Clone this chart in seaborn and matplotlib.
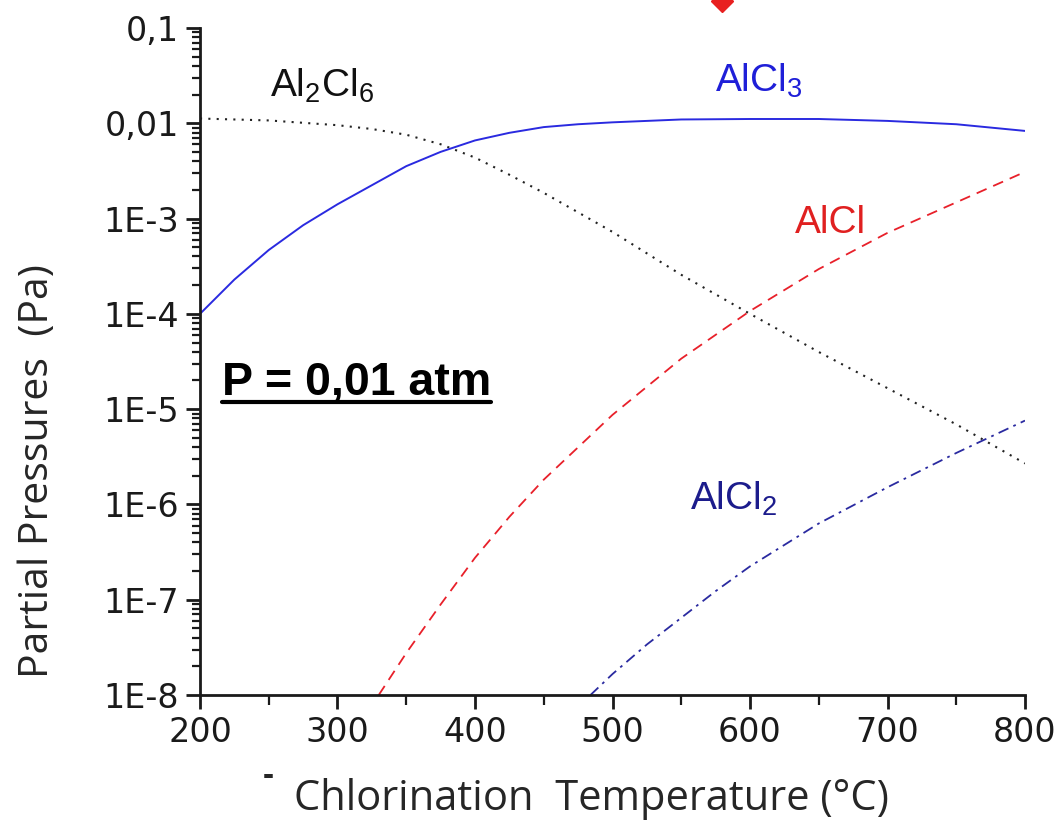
import numpy as np
import pandas as pd
import matplotlib
matplotlib.use("Agg")
import matplotlib.pyplot as plt
import matplotlib.ticker as mticker
from matplotlib.lines import Line2D
import seaborn as sns

# ---- data ----
temp_alcl3 = [200, 225, 250, 275, 300, 350, 375, 400, 425, 450, 475, 500, 550, 600, 650, 700, 750, 800]
log_alcl3 = [-4.0, -3.64, -3.33, -3.07, -2.85, -2.45, -2.30, -2.18, -2.10, -2.04, -2.01, -1.99,
             -1.96, -1.955, -1.955, -1.975, -2.01, -2.08]

temp_al2cl6 = [200, 250, 300, 325, 350, 375, 400, 425, 450, 500, 550, 600, 650, 700, 750, 800]
log_al2cl6 = [-1.95, -1.97, -2.02, -2.06, -2.12, -2.22, -2.36, -2.54, -2.73, -3.14, -3.59,
              -4.0, -4.40, -4.78, -5.16, -5.57]

temp_alcl = [330, 340, 350, 375, 400, 425, 450, 500, 550, 600, 650, 700, 750, 800]
log_alcl = [-8.0, -7.78, -7.56, -7.05, -6.56, -6.13, -5.74, -5.06, -4.47, -3.97, -3.53,
            -3.15, -2.83, -2.51]

temp_alcl2 = [484, 500, 525, 550, 575, 600, 650, 700, 750, 800]
log_alcl2 = [-8.0, -7.78, -7.47, -7.19, -6.91, -6.65, -6.20, -5.82, -5.46, -5.12]

ytick_values = [1e-8, 1e-7, 1e-6, 1e-5, 1e-4, 1e-3, 1e-2, 1e-1]
ytick_labels = ["1E-8", "1E-7", "1E-6", "1E-5", "1E-4", "1E-3", "0,01", "0,1"]
xtick_values = [200, 300, 400, 500, 600, 700, 800]

sns.set_style("ticks")
plt.rcParams["font.family"] = ["Liberation Sans", "DejaVu Sans"]
plt.rcParams["mathtext.fontset"] = "custom"
plt.rcParams["mathtext.rm"] = "Liberation Sans"
plt.rcParams["mathtext.it"] = "Liberation Sans"

fig = plt.figure(figsize=(10.59, 8.32), dpi=100)
ax = fig.add_axes([200 / 1059, 1 - 695 / 832, 825 / 1059, 667 / 832])

def frame(t, lg):
    return pd.DataFrame({"T": t, "P": np.power(10.0, lg)})

sns.lineplot(data=frame(temp_al2cl6, log_al2cl6), x="T", y="P", ax=ax,
             color="#222222", lw=1.5, linestyle=(0, (1, 3)))
sns.lineplot(data=frame(temp_alcl3, log_alcl3), x="T", y="P", ax=ax,
             color="#2a2ae0", lw=1.4, linestyle="-")
sns.lineplot(data=frame(temp_alcl, log_alcl), x="T", y="P", ax=ax,
             color="#e8202a", lw=1.3, linestyle=(0, (6, 4)))
sns.lineplot(data=frame(temp_alcl2, log_alcl2), x="T", y="P", ax=ax,
             color="#2a2aa0", lw=1.3, linestyle=(0, (6, 3, 1.5, 3)))

ax.set_yscale("log")
ax.set_xlim(200, 800)
ax.set_ylim(1e-8, 0.1)

ax.yaxis.set_major_locator(mticker.FixedLocator(ytick_values))
ax.yaxis.set_major_formatter(mticker.FixedFormatter(ytick_labels))
ax.yaxis.set_minor_locator(mticker.LogLocator(base=10, subs=np.arange(2, 10)))
ax.yaxis.set_minor_formatter(mticker.NullFormatter())
ax.xaxis.set_major_locator(mticker.FixedLocator(xtick_values))
ax.xaxis.set_minor_locator(mticker.MultipleLocator(50))

for s in ["top", "right"]:
    ax.spines[s].set_visible(False)
for s in ["left", "bottom"]:
    ax.spines[s].set_linewidth(2.0)
    ax.spines[s].set_color("#1a1a1a")

ax.tick_params(axis="both", which="major", direction="out", length=10, width=2,
               labelsize=24, color="#1a1a1a", pad=5)
ax.tick_params(axis="both", which="minor", direction="out", length=7, width=1.6,
               color="#1a1a1a")
ax.tick_params(axis="y", which="minor", length=6)
for lab in ax.get_xticklabels() + ax.get_yticklabels():
    lab.set_family(["DejaVu Sans"])
    lab.set_color("#1a1a1a")

ax.set_xlabel("Chlorination  Temperature (\u00b0C)", fontsize=30,
              family=["Open Sans", "DejaVu Sans"])
ax.set_ylabel("Partial Pressures  (Pa)", fontsize=29.5,
              family=["Open Sans", "DejaVu Sans"])
ax.xaxis.set_label_coords(0.475, -0.125)
ax.yaxis.set_label_coords(-0.172, 0.336)

# series labels (baseline anchored)
ax.text(251, 10 ** -1.724, r"Al$_2$Cl$_6$", fontsize=28, color="#111111", ha="left", va="baseline")
ax.text(574.5, 10 ** -1.672, r"AlCl$_3$", fontsize=28, color="#1f1fd8", ha="left", va="baseline")
ax.text(633, 10 ** -3.151, "AlCl", fontsize=28, color="#e02020", ha="left", va="baseline")
ax.text(556, 10 ** -6.058, r"AlCl$_2$", fontsize=28, color="#1c1c8c", ha="left", va="baseline")

p_x, p_y = 216, 10 ** -4.851
ptxt = ax.text(p_x, p_y, "P = 0,01 atm", fontsize=33.5, fontweight="bold",
               color="black", ha="left", va="baseline")
fig.canvas.draw()
bb = ptxt.get_window_extent(renderer=fig.canvas.get_renderer())
base = ax.transData.transform((p_x, p_y))[1]
fy = (base - 7) / fig.bbox.height
fig.add_artist(Line2D([bb.x0 / fig.bbox.width, bb.x1 / fig.bbox.width], [fy, fy],
                      transform=fig.transFigure, color="black", lw=3.0))

# stray marks in the reference
fig.text(268 / 1059, 1 - 776 / 832, "-", fontsize=24, fontweight="bold", ha="center", va="center")
fig.add_artist(Line2D([722 / 1059], [1 - 1 / 832], marker="D", color="#e82020",
                      markersize=11, transform=fig.transFigure, clip_on=False))

fig.savefig("out.png", dpi=100, facecolor="white")
